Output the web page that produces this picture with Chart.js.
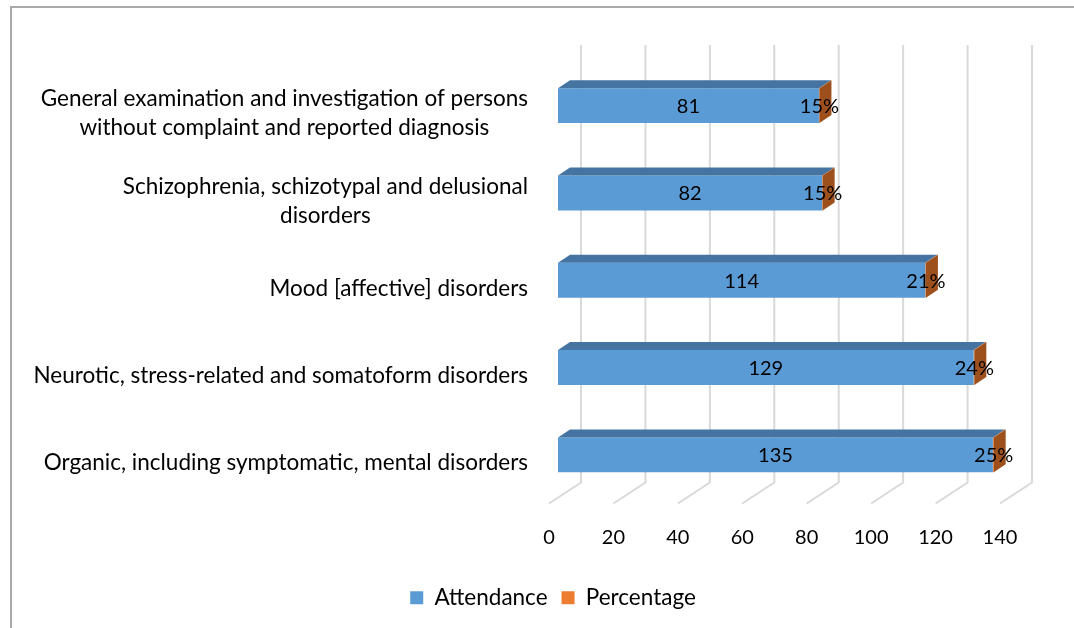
<!DOCTYPE html>
<html>
<head>
<meta charset="utf-8">
<script src="https://cdn.jsdelivr.net/npm/chart.js@4"></script>
<style>
  body { margin: 0; background: #fff; }
  #wrap { position: relative; width: 1074px; height: 628px; overflow: hidden; }
  #frame { position: absolute; left: 10px; top: 6px; width: 1100px; height: 700px;
           border-left: 2px solid #a9a9a9; border-top: 2px solid #a9a9a9; }
  canvas { position: absolute; left: 0; top: 0; }
</style>
</head>
<body>
<div id="wrap">
  <div id="frame"></div>
  <canvas id="chart" width="1074" height="628"></canvas>
</div>
<script>
// chart values
const categories = [
  ["General examination and investigation of persons", "without complaint and reported diagnosis"],
  ["Schizophrenia, schizotypal and delusional", "disorders"],
  ["Mood [affective] disorders"],
  ["Neurotic, stress-related and somatoform disorders"],
  ["Organic, including symptomatic, mental disorders"]
]
const attendance = [81, 82, 114, 129, 135]
const percentage = [0.15, 0.15, 0.21, 0.24, 0.25]
const xTicks = [0, 20, 40, 60, 80, 100, 120, 140]

const FONT = "Lato"
const TEXT_SIZE = 22.5
const NUM_SIZE = 20
const GRID = "#d9d9d9"

// depth of the 3d bars and of the back wall
const barDx = 12, barDy = 8
const wallDx = 23, wallDy = 21

// back wall grid lines and floor diagonals, drawn behind the bars
const wallGrid = {
  id: "wallGrid",
  beforeDatasetsDraw(chart) {
    const ctx = chart.ctx, x = chart.scales.x, area = chart.chartArea
    const front = area.bottom + 5
    ctx.save()
    ctx.strokeStyle = GRID
    ctx.lineWidth = 2
    xTicks.forEach(v => {
      const px = x.getPixelForValue(v)
      ctx.beginPath()
      ctx.moveTo(px + wallDx, 45)
      ctx.lineTo(px + wallDx, front - wallDy)
      ctx.lineTo(px - 9, front)
      ctx.stroke()
    })
    ctx.restore()
  }
}

// top and end faces of the bars, then the value labels
const bars3d = {
  id: "bars3d",
  afterDatasetsDraw(chart) {
    const ctx = chart.ctx
    ctx.save()
    chart.data.datasets.forEach((ds, di) => {
      chart.getDatasetMeta(di).data.forEach(el => {
        const top = el.y - el.height / 2, bottom = el.y + el.height / 2
        const x0 = Math.min(el.base, el.x), x1 = Math.max(el.base, el.x)
        ctx.fillStyle = ds.topColor
        ctx.beginPath()
        ctx.moveTo(x0, top)
        ctx.lineTo(x0 + barDx, top - barDy)
        ctx.lineTo(x1 + barDx, top - barDy)
        ctx.lineTo(x1, top)
        ctx.closePath()
        ctx.fill()
        if (di === chart.data.datasets.length - 1) {
          ctx.fillStyle = ds.sideColor
          ctx.beginPath()
          ctx.moveTo(x1, top)
          ctx.lineTo(x1 + barDx, top - barDy)
          ctx.lineTo(x1 + barDx, bottom - barDy)
          ctx.lineTo(x1, bottom)
          ctx.closePath()
          ctx.fill()
        }
      })
    })
    ctx.fillStyle = "#000"
    ctx.font = NUM_SIZE + "px " + FONT
    ctx.textAlign = "center"
    ctx.textBaseline = "middle"
    chart.getDatasetMeta(0).data.forEach((el, i) => {
      ctx.fillText(attendance[i], (el.x + el.base) / 2, el.y + 1)
    })
    chart.getDatasetMeta(1).data.forEach((el, i) => {
      ctx.fillText(Math.round(percentage[i] * 100) + "%", el.x, el.y + 1)
    })
    ctx.restore()
  }
}

// category labels, lines centred on each other like the original
const catLabels = {
  id: "catLabels",
  afterDraw(chart) {
    const ctx = chart.ctx, y = chart.scales.y
    const right = chart.chartArea.left - 30
    ctx.save()
    ctx.fillStyle = "#000"
    ctx.font = TEXT_SIZE + "px " + FONT
    ctx.textAlign = "center"
    ctx.textBaseline = "middle"
    categories.forEach((lines, i) => {
      const w = Math.max(...lines.map(l => ctx.measureText(l).width))
      const cy = y.getPixelForTick(i) + 8
      lines.forEach((l, k) => {
        ctx.fillText(l, right - w / 2, cy + (k - (lines.length - 1) / 2) * 29)
      })
    })
    ctx.restore()
  }
}

new Chart("chart", {
  type: "bar",
  data: {
    labels: categories,
    datasets: [
      {label: "Attendance", data: attendance, backgroundColor: "#5b9bd5", topColor: "#4574a3", borderWidth: 0,
       barPercentage: 0.4, categoryPercentage: 1},
      {label: "Percentage", data: percentage, backgroundColor: "#ed7d31", topColor: "#b35d22", sideColor: "#9e501c",
       borderWidth: 0, barPercentage: 0.4, categoryPercentage: 1}
    ]
  },
  options: {
    responsive: false,
    animation: false,
    indexAxis: "y",
    layout: {padding: {top: 62, right: 65, left: 97, bottom: 9}},
    scales: {
      x: {
        stacked: true, min: 0, max: 140,
        afterBuildTicks(s) { s.ticks = xTicks.map(v => ({value: v})) },
        afterFit(s) { s.height = 74 },
        ticks: {color: "#000", font: {family: FONT, size: NUM_SIZE}, labelOffset: -9, padding: 27, maxRotation: 0},
        grid: {display: false, drawTicks: false},
        border: {display: false}
      },
      y: {
        stacked: true,
        afterFit(s) { s.width = 461 },
        ticks: {display: false},
        grid: {display: false, drawTicks: false},
        border: {display: false}
      }
    },
    plugins: {
      legend: {
        position: "bottom",
        labels: {boxWidth: 13, boxHeight: 13, color: "#000", padding: 14, font: {family: FONT, size: TEXT_SIZE}}
      },
      tooltip: {enabled: false}
    }
  },
  plugins: [wallGrid, bars3d, catLabels]
})
</script>
</body>
</html>
